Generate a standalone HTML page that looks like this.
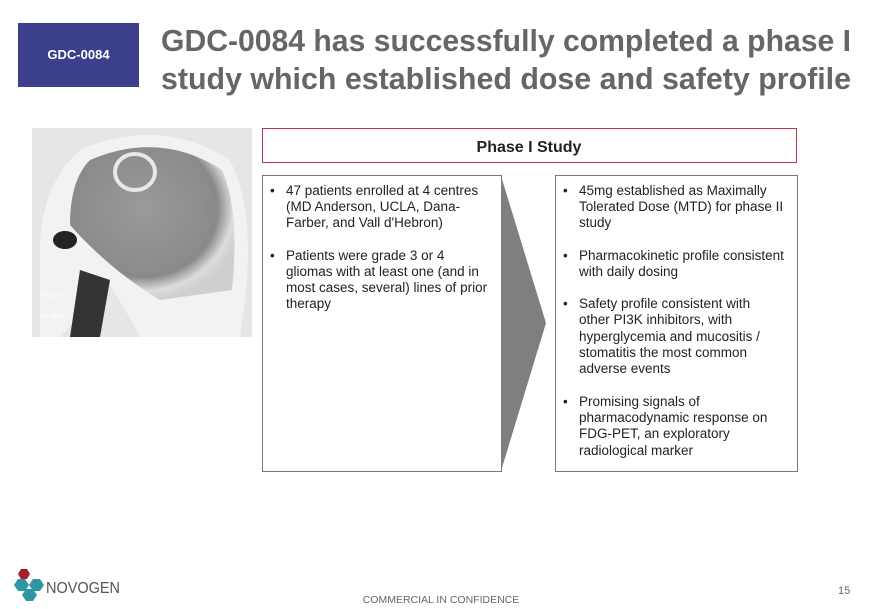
<!DOCTYPE html>
<html><head><style>
body{margin:0;background:#fff;}
svg{display:block;font-family:"Liberation Sans",sans-serif;}
</style></head><body>
<svg width="880" height="609" viewBox="0 0 880 609">
<defs>
<radialGradient id="sk" cx="0.45" cy="0.4" r="0.6">
<stop offset="0" stop-color="#9a9a9a"/><stop offset="0.75" stop-color="#8a8a8a"/><stop offset="0.9" stop-color="#dcdcdc"/><stop offset="1" stop-color="#cfcfcf"/>
</radialGradient>
</defs>
<rect x="18" y="23" width="121" height="64" fill="#3b3f8c"/>
<text x="78.5" y="59" font-size="13" font-weight="bold" fill="#fff" text-anchor="middle">GDC-0084</text>
<text x="161" y="51" font-size="31" font-weight="bold" fill="#666" textLength="690" lengthAdjust="spacingAndGlyphs">GDC-0084 has successfully completed a phase I</text>
<text x="161" y="89" font-size="31" font-weight="bold" fill="#666" textLength="690" lengthAdjust="spacingAndGlyphs">study which established dose and safety profile</text>

<!-- MRI image -->
<rect x="32" y="128" width="220" height="209" fill="#e6e6e6"/>
<path d="M80,150 Q160,115 230,160 Q255,210 245,300 L240,337 L140,337 Q120,300 110,285 L60,337 L40,337 L40,240 Q45,180 80,150Z" fill="#f2f2f2"/>
<path d="M90,160 Q160,130 222,170 Q240,210 232,290 L160,300 Q110,270 70,225 Q70,180 90,160Z" fill="url(#sk)"/>
<ellipse cx="135" cy="172" rx="20" ry="18" fill="none" stroke="#e8e8e8" stroke-width="4"/>
<ellipse cx="65" cy="240" rx="12" ry="9" fill="#222"/>
<path d="M80,270 L110,280 L100,337 L70,337Z" fill="#333"/>
<text x="40" y="297" font-size="6" fill="#fff">Post CM</text>
<text x="40" y="318" font-size="6" fill="#fff">TR 234.0</text>

<!-- Phase I header -->
<rect x="262.5" y="128.5" width="534" height="34" fill="#fff" stroke="#b8394e" stroke-width="1"/>
<text x="529" y="152" font-size="16" font-weight="bold" fill="#222" text-anchor="middle">Phase I Study</text>

<!-- boxes -->
<rect x="262.5" y="175.5" width="239" height="296" fill="#fff" stroke="#777"/>
<polygon points="501,176 546,323 501,471" fill="#7f7f7f"/>
<rect x="555.5" y="175.5" width="242" height="296" fill="#fff" stroke="#777"/>

<g font-size="13.5" fill="#222">
<text x="270" y="195">•</text>
<text x="286" y="195">47 patients enrolled at 4 centres</text>
<text x="286" y="211">(MD Anderson, UCLA, Dana-</text>
<text x="286" y="227">Farber, and Vall d'Hebron)</text>
<text x="270" y="260">•</text>
<text x="286" y="260">Patients were grade 3 or 4</text>
<text x="286" y="276">gliomas with at least one (and in</text>
<text x="286" y="292">most cases, several) lines of prior</text>
<text x="286" y="308">therapy</text>

<text x="563" y="195">•</text>
<text x="579" y="195">45mg established as Maximally</text>
<text x="579" y="211">Tolerated Dose (MTD) for phase II</text>
<text x="579" y="227">study</text>
<text x="563" y="260">•</text>
<text x="579" y="260">Pharmacokinetic profile consistent</text>
<text x="579" y="276">with daily dosing</text>
<text x="563" y="308">•</text>
<text x="579" y="308">Safety profile consistent with</text>
<text x="579" y="324">other PI3K inhibitors, with</text>
<text x="579" y="341">hyperglycemia and mucositis /</text>
<text x="579" y="357">stomatitis the most common</text>
<text x="579" y="373">adverse events</text>
<text x="563" y="406">•</text>
<text x="579" y="406">Promising signals of</text>
<text x="579" y="422">pharmacodynamic response on</text>
<text x="579" y="438">FDG-PET, an exploratory</text>
<text x="579" y="455">radiological marker</text>
</g>

<!-- footer logo -->
<polygon points="18,574 21,569 27,569 30,574 27,579 21,579" fill="#a51c2a"/>
<polygon points="14,585 18,579 25,579 29,585 25,591 18,591" fill="#2f97a3"/>
<polygon points="29,585 33,579 40,579 44,585 40,591 33,591" fill="#2f97a3"/>
<polygon points="22,595 26,589 33,589 37,595 33,601 26,601" fill="#2f97a3"/>
<text x="46" y="593" font-size="16" fill="#555" textLength="74" lengthAdjust="spacingAndGlyphs">NOVOGEN</text>
<text x="441" y="603" font-size="10.5" fill="#666" text-anchor="middle">COMMERCIAL IN CONFIDENCE</text>
<text x="838" y="594" font-size="11" fill="#666">15</text>
</svg>
</body></html>
